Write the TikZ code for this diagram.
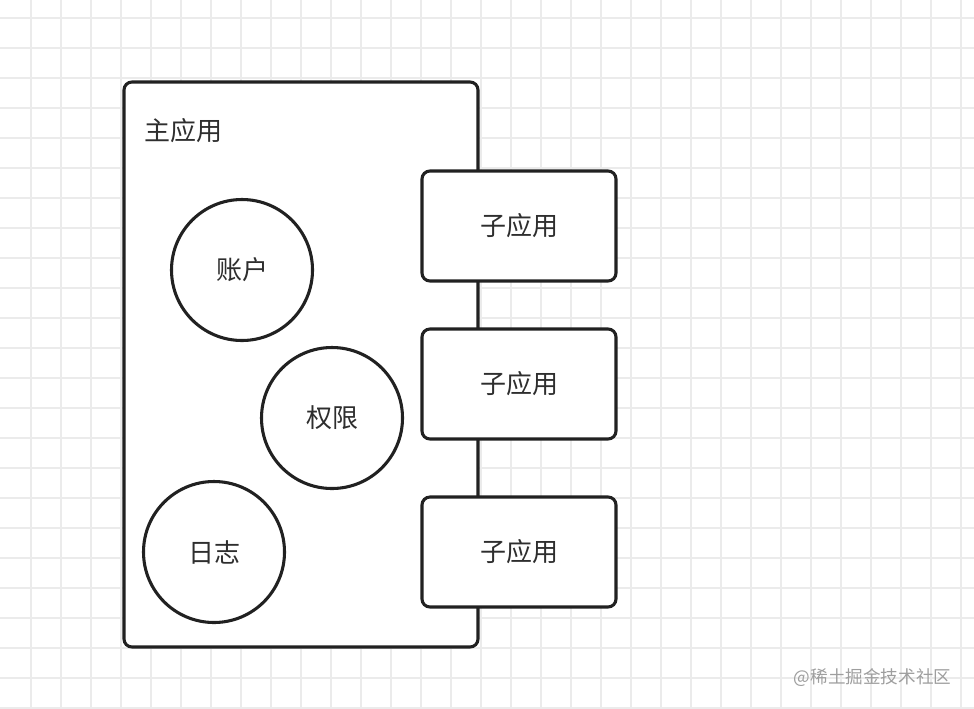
\documentclass[tikz,border=0pt]{standalone}
\usepackage{fontspec}
\setmainfont{Noto Sans CJK SC}
\begin{document}
\begin{tikzpicture}[x=0.75pt,y=-0.75pt,
  gridline/.style={draw=black!8,line width=1.5pt},
  mainbox/.style={draw=black!87,line width=2.3pt,fill=white,rounded corners=6pt},
  subbox/.style={draw=black!87,line width=2.3pt,fill=white,rounded corners=6pt,minimum width=194*0.75pt,minimum height=110*0.75pt,inner sep=0pt},
  module/.style={circle,draw=black!87,line width=2.3pt,fill=white,minimum size=141*0.75pt,inner sep=0pt},
  lbl/.style={text=black!82,font=\fontsize{19.5}{21}\selectfont}]
\useasboundingbox (0,0) rectangle (974,708);
\fill[white] (0,0) rectangle (974,708);
\foreach \i in {0,...,31} { \draw[gridline] (31+30*\i,0) -- (31+30*\i,708); }
\foreach \j in {0,...,23} { \draw[gridline] (0,18+30*\j) -- (974,18+30*\j); }
\draw[mainbox] (124,82) rectangle (478,647);
\coordinate (mainlbl) at (183,131);
\node[lbl] (main) at (mainlbl) {主应用};
\node[module,lbl] (acct) at (242,270) {账户};
\node[module,lbl] (perm) at (332,418) {权限};
\node[module,lbl] (log) at (214,552) {日志};
\node[subbox,lbl] (s1) at (519,226) {子应用};
\node[subbox,lbl] (s2) at (519,384) {子应用};
\node[subbox,lbl] (s3) at (519,552) {子应用};
\node[text=black!38,font=\fontsize{13.2}{15}\selectfont,anchor=east] (wm) at (956,678) {@稀土掘金技术社区};
\end{tikzpicture}
\end{document}
